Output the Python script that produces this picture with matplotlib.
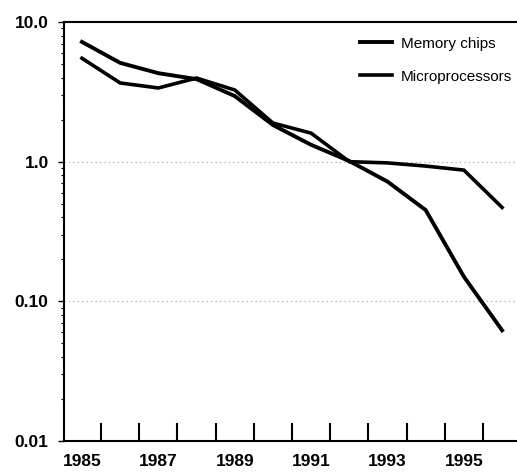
import numpy as np
import matplotlib
matplotlib.use("Agg")
import matplotlib.pyplot as plt
from matplotlib.ticker import FixedLocator, NullFormatter

plt.rcParams['font.family'] = ['Liberation Sans', 'DejaVu Sans']

years = [1985, 1986, 1987, 1988, 1989, 1990, 1991, 1992, 1993, 1994, 1995, 1996]
memory_chips = [7.2, 5.1, 4.3, 3.9, 2.95, 1.83, 1.32, 1.01, 0.72, 0.45, 0.15, 0.062]
microprocessors = [5.5, 3.66, 3.37, 3.97, 3.26, 1.89, 1.60, 1.0, 0.98, 0.93, 0.87, 0.47]
y_ticks = [10.0, 1.0, 0.1, 0.01]
y_labels = ["10.0", "1.0", "0.10", "0.01"]
x_labels = [1985, 1987, 1989, 1991, 1993, 1995]

fig = plt.figure(figsize=(5.17, 4.73), dpi=100)
ax = fig.add_axes([64 / 517, 32 / 473, 453 / 517, 419 / 473])

ax.plot(years, memory_chips, color='black', lw=2.8, solid_joinstyle='miter',
        label='Memory chips')
ax.plot(years, microprocessors, color='black', lw=2.6, solid_joinstyle='miter',
        label='Microprocessors')

# faint dotted grid pieces at the major decades
for v in [1.0, 0.1]:
    ax.axhline(v, color='0.6', lw=0.8, ls=(0, (1, 3)), zorder=0)

ax.set_yscale('log')
ax.set_ylim(0.01, 10)
ax.set_xlim(1984.53, 1996.39)

ax.set_yticks(y_ticks)
ax.set_yticklabels(y_labels, fontweight='bold', fontsize=12.5)
ax.yaxis.set_minor_locator(FixedLocator(
    [m * d for d in [0.01, 0.1, 1.0] for m in range(2, 10)]))
ax.yaxis.set_minor_formatter(NullFormatter())
ax.tick_params(axis='y', which='major', direction='out', length=4, width=1, pad=7)
ax.tick_params(axis='y', which='minor', direction='out', length=2, width=0.8)

# year boundaries as ticks, year labels centred in the intervals
ax.set_xticks([y + 0.5 for y in years[:-1]])
ax.set_xticklabels([])
ax.set_xticks(x_labels, minor=True)
ax.set_xticklabels([str(y) for y in x_labels], minor=True,
                   fontweight='bold', fontsize=12.5)
ax.tick_params(axis='x', which='major', direction='in', length=13, width=1.5)
ax.tick_params(axis='x', which='minor', length=0, pad=9)

ax.spines['right'].set_visible(False)
for s in ['left', 'top', 'bottom']:
    ax.spines[s].set_linewidth(1.5)

ax.legend(loc='upper left', bbox_to_anchor=(0.653, 0.965), frameon=False,
          fontsize=11, handlelength=2.1, handletextpad=0.6,
          labelspacing=1.25, borderpad=0, borderaxespad=0)

fig.savefig('out.png', dpi=100)
